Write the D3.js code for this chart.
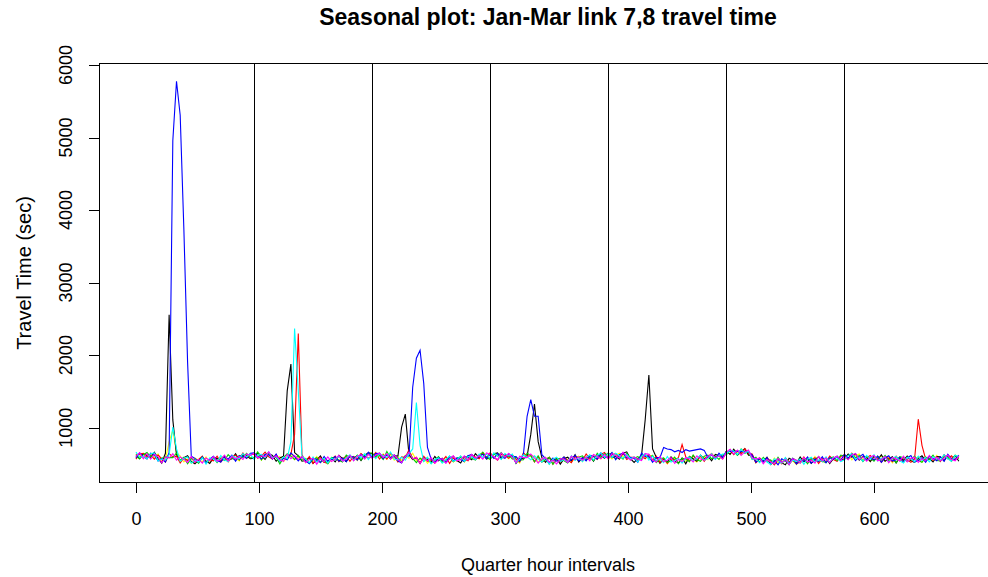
<!DOCTYPE html>
<html>
<head>
<meta charset="utf-8">
<script src="https://cdn.jsdelivr.net/npm/d3@7"></script>
<style>
  body { margin: 0; background: #fff; }
  svg { display: block; }
  text { font-family: "Liberation Sans", Arial, sans-serif; fill: #000; }
</style>
</head>
<body>
<svg id="chart" width="988" height="577"></svg>
<script>
// Quarter-hour travel times on link 7,8, one line per week (Jan-Mar).
// Each week holds seven days of readings taken every third quarter hour.
const dayLength = 96;
const sampleStep = 3;
const xTicks = [0, 100, 200, 300, 400, 500, 600];
const yTicks = [1000, 2000, 3000, 4000, 5000, 6000];
const dayBreaks = [96, 192, 288, 384, 480, 576];

const week1 = [ // black
  [620,570,635,605,585,655,570,505,640,2550,1100,620,545,580,605,525,495,550,580,535,500,575,570,530,600,545,565,635,550,615,605,565],
  [570,645,605,555,635,610,530,575,600,1500,1870,650,605,530,540,580,500,550,605,515,535,570,520,610,565,525,605,570,610,540,615,645],
  [635,590,640,570,620,560,605,600,1000,1180,620,555,580,500,585,550,515,595,535,570,510,565,600,540,505,595,580,550,635,580,635,560],
  [580,635,645,565,625,595,620,500,570,565,600,900,1320,800,580,515,585,535,570,490,565,585,535,620,520,580,550,610,530,615,605,570],
  [645,580,600,560,640,660,565,515,570,600,1100,1720,700,585,500,560,520,590,535,505,575,495,595,565,530,615,560,600,535,625,610,580],
  [670,625,695,615,660,703,615,615,515,570,530,585,485,535,565,508,480,572,545,505,590,523,560,500,555,590,523,580,500,565,600,550],
  [560,630,585,635,545,595,585,525,600,550,620,530,565,593,505,580,545,600,535,515,570,605,535,565,520,595,590,535,615,565,605,530]
];
const week2 = [ // red
  [560,630,640,585,615,560,615,565,520,635,590,600,505,580,540,585,515,555,600,505,555,535,600,520,585,520,585,615,565,645,570,620],
  [630,570,600,655,590,560,620,540,575,560,625,900,2290,620,530,595,500,560,580,515,500,560,600,525,565,600,530,595,565,635,590,575],
  [590,650,560,620,560,640,595,520,590,580,690,560,585,505,600,530,550,505,575,535,595,500,575,535,600,560,535,615,590,565,650,585],
  [650,585,545,625,615,570,620,560,520,645,600,610,520,585,520,555,585,490,560,520,580,545,510,600,580,540,630,565,595,555,625,650],
  [565,620,635,575,640,555,585,585,530,600,565,625,545,600,515,565,500,565,550,580,760,590,530,605,550,600,530,595,635,575,605,565],
  [650,690,620,675,635,703,635,630,510,560,520,575,535,480,550,493,575,522,560,495,520,588,515,550,580,500,568,520,600,555,530,595],
  [620,560,640,570,600,530,580,610,545,580,515,590,570,523,600,535,580,550,515,560,1110,750,560,600,545,590,525,620,565,605,545,595]
];
const week3 = [ // green
  [605,560,620,650,590,620,545,570,590,580,580,645,545,585,495,565,550,500,590,515,555,580,510,575,540,620,570,545,610,580,640,575],
  [585,660,550,620,645,580,585,495,580,635,600,555,610,545,570,500,555,580,515,550,495,585,575,545,520,615,580,555,615,545,615,640],
  [640,595,610,555,665,575,595,575,515,595,655,570,510,575,530,580,500,550,595,515,545,590,525,575,585,525,610,570,545,615,655,585],
  [555,630,600,650,580,620,560,585,545,550,640,610,525,605,520,550,585,490,560,570,535,505,595,550,585,605,545,590,535,640,580,635],
  [620,645,560,605,560,640,565,570,595,555,620,570,610,510,560,575,515,535,585,495,570,560,525,615,550,530,600,615,565,600,555,620],
  [620,680,665,610,700,638,665,555,585,520,585,530,550,495,585,513,540,482,570,540,505,563,495,575,535,595,528,510,570,590,540,615],
  [600,555,635,575,610,525,595,575,530,600,545,610,535,568,510,595,580,525,560,600,540,515,590,555,615,540,535,590,585,530,615,565]
];
const week4 = [ // blue
  [575,645,595,560,640,620,535,565,520,650,4950,5770,5300,3720,1900,600,570,520,590,505,560,600,540,520,585,560,615,530,605,600,570,640],
  [645,600,560,625,620,560,630,530,570,550,645,595,535,595,535,495,570,555,510,595,530,555,595,530,575,525,600,590,545,625,585,655],
  [580,635,640,565,615,580,620,535,505,605,600,1550,1950,2060,1600,720,560,515,580,550,510,600,535,575,555,525,605,625,555,600,625,570],
  [625,570,635,590,570,635,590,595,530,620,1150,1380,1150,1150,620,565,495,575,530,545,590,520,550,610,535,580,535,610,600,560,645,585],
  [590,650,550,620,645,575,585,570,515,640,595,600,515,580,580,720,700,690,660,680,650,690,670,680,690,700,680,580,620,560,640,585],
  [662,668,665,670,663,667,659,615,515,570,525,580,500,540,480,563,535,507,570,490,555,528,590,505,560,525,593,510,580,555,595,545],
  [625,575,615,540,590,625,545,575,550,600,515,575,605,533,550,585,515,575,610,520,545,580,515,600,570,535,590,530,625,560,555,615]
];
const week5 = [ // cyan
  [655,585,600,565,635,645,535,560,545,620,1000,700,530,570,590,505,545,520,580,490,575,560,520,610,545,525,605,585,560,635,590,625],
  [555,615,625,580,660,575,595,535,590,565,800,2360,1500,600,560,510,590,520,550,570,505,575,545,600,530,575,620,540,605,580,635,555],
  [620,565,635,610,580,655,560,550,585,545,635,700,1340,750,525,585,495,555,575,505,555,600,530,550,605,530,595,590,555,630,585,630],
  [570,645,605,555,635,600,630,510,560,620,590,550,605,555,520,580,490,560,585,525,555,520,605,540,585,525,585,615,550,610,645,580],
  [635,580,640,605,570,625,565,590,520,600,635,545,600,540,560,510,595,520,540,570,505,570,590,535,565,615,545,565,635,555,610,630],
  [630,685,670,620,695,643,670,560,565,510,565,520,485,565,535,503,580,492,545,525,565,488,560,585,515,550,528,590,520,585,575,525],
  [550,610,635,560,590,530,610,560,620,535,570,585,520,573,595,535,505,585,565,520,600,540,580,520,590,570,545,620,565,530,610,595]
];
const week6 = [ // magenta
  [595,650,565,635,560,625,590,510,590,575,635,545,590,555,515,595,520,555,505,575,540,595,530,555,615,535,595,560,595,555,630,610],
  [640,575,605,590,660,565,605,550,530,625,565,610,555,595,510,555,570,490,565,525,590,525,560,610,530,560,610,535,600,620,560,625],
  [570,615,640,580,635,560,615,560,510,595,655,565,580,500,575,535,580,505,550,565,505,565,605,540,550,605,545,625,570,605,560,645],
  [625,590,550,645,585,635,585,510,600,580,580,630,575,505,565,580,520,545,495,565,560,510,600,555,590,545,590,535,625,600,565,625],
  [560,635,605,575,655,600,545,585,560,540,635,625,545,520,595,525,545,580,500,555,525,580,565,520,605,560,545,600,620,580,605,560],
  [655,695,630,685,610,658,685,575,560,575,495,555,520,495,570,513,555,482,565,545,505,583,520,545,505,595,538,575,510,575,600,540],
  [595,550,620,635,555,590,530,590,610,535,555,595,510,583,560,535,600,520,570,585,515,565,535,610,550,585,535,575,615,555,535,605]
];
const week7 = [ // yellow
  [630,595,635,565,630,580,630,530,555,800,960,650,600,520,560,500,575,545,525,590,510,575,540,570,605,535,595,575,535,625,615,580],
  [580,640,545,615,650,575,585,595,525,585,640,550,580,595,510,555,525,595,515,565,500,555,590,540,575,530,605,590,540,635,590,625],
  [645,580,600,630,560,625,545,585,540,615,570,640,540,555,580,500,555,525,585,510,560,595,520,555,585,520,595,615,560,600,645,575],
  [565,625,635,585,620,565,610,550,505,640,590,605,595,520,535,585,490,565,555,515,595,545,520,580,600,525,590,560,615,600,560,630],
  [610,560,615,640,590,610,550,590,535,625,570,610,610,525,540,575,495,555,585,505,555,530,600,550,520,595,585,550,635,580,620,565],
  [665,630,690,655,620,698,620,610,510,580,535,555,490,575,505,543,560,497,535,485,575,528,565,510,595,525,543,585,510,570,585,555],
  [570,625,550,605,630,550,585,525,600,560,605,530,575,508,580,560,520,600,535,565,590,515,580,550,535,610,550,595,580,530,610,590]
];

// drawing order: first entry is painted underneath
const seriesList = [
  { days: week7, color: "#FFFF00" },
  { days: week1, color: "#000000" },
  { days: week2, color: "#FF0000" },
  { days: week3, color: "#00CD00" },
  { days: week4, color: "#0000FF" },
  { days: week5, color: "#00FFFF" },
  { days: week6, color: "#FF00FF" }
];

const svg = d3.select("#chart");
svg.append("rect").attr("width", 988).attr("height", 577).attr("fill", "#fff");

const plot = { left: 99.5, right: 997, top: 63.5, bottom: 482.5 };

const x = d3.scaleLinear().domain([-29.6, 700]).range([plot.left, plot.right]);
const y = d3.scaleLinear().domain([237, 6014]).range([plot.bottom, plot.top]);

const toPoints = days => days.flatMap((vals, d) =>
  vals.map((v, j) => ({ q: d * dayLength + j * sampleStep, v })));

const line = d3.line().x(d => x(d.q)).y(d => y(d.v));

const lines = svg.append("g");
seriesList.forEach(s => {
  lines.append("path")
    .datum(toPoints(s.days))
    .attr("d", line)
    .attr("fill", "none")
    .attr("stroke", s.color)
    .attr("stroke-width", 1.1);
});

// day separators
svg.append("g").selectAll("line").data(dayBreaks).join("line")
  .attr("x1", d => Math.round(x(d)) + 0.5).attr("x2", d => Math.round(x(d)) + 0.5)
  .attr("y1", plot.top).attr("y2", plot.bottom)
  .attr("stroke", "#000").attr("stroke-width", 1).attr("shape-rendering", "crispEdges");

// plot frame
svg.append("rect")
  .attr("x", plot.left).attr("y", plot.top)
  .attr("width", plot.right - plot.left).attr("height", plot.bottom - plot.top)
  .attr("fill", "none").attr("stroke", "#000").attr("stroke-width", 1)
  .attr("shape-rendering", "crispEdges");

// x axis
const xAxis = svg.append("g")
  .attr("transform", `translate(0,${plot.bottom})`)
  .call(d3.axisBottom(x).tickValues(xTicks).tickSize(10).tickSizeOuter(0).tickFormat(d3.format("d")));
xAxis.select(".domain").remove();
xAxis.selectAll(".tick line").attr("stroke", "#000").attr("shape-rendering", "crispEdges")
  .attr("transform", "translate(0.5,0)");
xAxis.selectAll(".tick text")
  .attr("y", 42.5).attr("dy", null)
  .attr("font-size", 18).attr("fill", "#000")
  .style("font-family", "'Liberation Sans', Arial, sans-serif");

// y axis
const yAxis = svg.append("g")
  .attr("transform", `translate(${plot.left},0)`)
  .call(d3.axisLeft(y).tickValues(yTicks).tickSize(11).tickSizeOuter(0).tickFormat(d3.format("d")));
yAxis.select(".domain").remove();
yAxis.selectAll(".tick line").attr("stroke", "#000").attr("shape-rendering", "crispEdges")
  .attr("transform", "translate(0,0.5)");
yAxis.selectAll(".tick text")
  .attr("x", null).attr("dy", null)
  .attr("transform", "translate(-27.5,0) rotate(-90)")
  .attr("text-anchor", "middle")
  .attr("font-size", 18).attr("fill", "#000")
  .style("font-family", "'Liberation Sans', Arial, sans-serif");

// titles
svg.append("text")
  .attr("x", 548).attr("y", 25)
  .attr("text-anchor", "middle")
  .attr("font-size", 23).attr("font-weight", "bold")
  .text("Seasonal plot: Jan-Mar link 7,8 travel time");

svg.append("text")
  .attr("x", 548).attr("y", 571)
  .attr("text-anchor", "middle")
  .attr("font-size", 18)
  .text("Quarter hour intervals");

svg.append("text")
  .attr("transform", `translate(31,${(plot.top + plot.bottom) / 2}) rotate(-90)`)
  .attr("text-anchor", "middle")
  .attr("font-size", 20)
  .text("Travel Time (sec)");
</script>
</body>
</html>
